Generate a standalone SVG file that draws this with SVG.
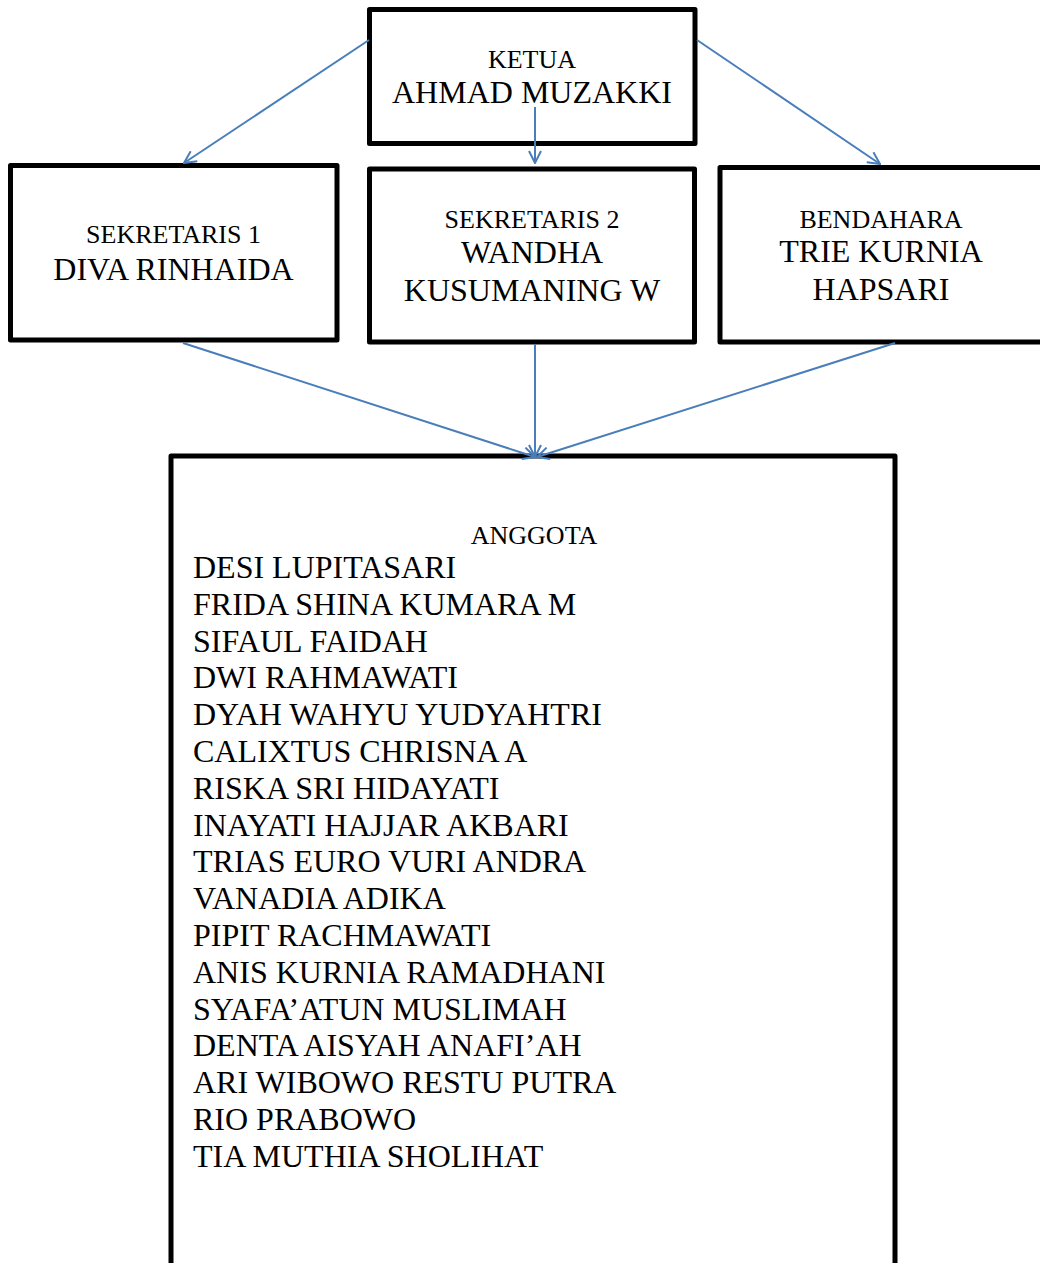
<svg xmlns="http://www.w3.org/2000/svg" width="1040" height="1263" viewBox="0 0 1040 1263">
<style>
.box{fill:#ffffff;stroke:#000000;stroke-width:5;stroke-linejoin:round}
.t{font-family:"Liberation Serif","Times New Roman",serif;fill:#000000}
.s{font-size:26px}
.b{font-size:32px}
.c{text-anchor:middle}
.conn{stroke:#4a7ebb;stroke-width:2;fill:none}
</style>
<defs>
<marker id="arr" viewBox="0 0 14 14" refX="13" refY="7" markerWidth="14" markerHeight="14" markerUnits="userSpaceOnUse" orient="auto">
<path d="M1,1 L13,7 L1,13" fill="none" stroke="#4a7ebb" stroke-width="2"/>
</marker>
</defs>
<rect width="1040" height="1263" fill="#ffffff"/>
<g id="ketua">
<rect class="box" x="369.5" y="9.5" width="325.5" height="134"/>
<text class="t s c" x="532" y="68">KETUA</text>
<text class="t b c" x="532" y="103">AHMAD MUZAKKI</text>
</g>
<g id="sekretaris1">
<rect class="box" x="10.5" y="165.5" width="326.5" height="174.5"/>
<text class="t s c" x="173.5" y="243">SEKRETARIS 1</text>
<text class="t b c" x="173.5" y="280">DIVA RINHAIDA</text>
</g>
<g id="sekretaris2">
<rect class="box" x="369.5" y="169" width="325" height="173"/>
<text class="t s c" x="532" y="228">SEKRETARIS 2</text>
<text class="t b c" x="532" y="263">WANDHA</text>
<text class="t b c" x="532" y="301">KUSUMANING W</text>
</g>
<g id="bendahara">
<rect class="box" x="720" y="167.5" width="324" height="174.5"/>
<text class="t s c" x="881" y="228">BENDAHARA</text>
<text class="t b c" x="881" y="262">TRIE KURNIA</text>
<text class="t b c" x="881" y="300">HAPSARI</text>
</g>
<g id="anggota">
<rect class="box" x="171" y="456" width="724" height="830"/>
<text class="t s c" x="534" y="544">ANGGOTA</text>
<text class="t b" x="193" y="578">DESI LUPITASARI</text>
<text class="t b" x="193" y="614.8">FRIDA SHINA KUMARA M</text>
<text class="t b" x="193" y="651.6">SIFAUL FAIDAH</text>
<text class="t b" x="193" y="688.4">DWI RAHMAWATI</text>
<text class="t b" x="193" y="725.2">DYAH WAHYU YUDYAHTRI</text>
<text class="t b" x="193" y="762">CALIXTUS CHRISNA A</text>
<text class="t b" x="193" y="798.8">RISKA SRI HIDAYATI</text>
<text class="t b" x="193" y="835.6">INAYATI HAJJAR AKBARI</text>
<text class="t b" x="193" y="872.4">TRIAS EURO VURI ANDRA</text>
<text class="t b" x="193" y="909.2">VANADIA ADIKA</text>
<text class="t b" x="193" y="946">PIPIT RACHMAWATI</text>
<text class="t b" x="193" y="982.8">ANIS KURNIA RAMADHANI</text>
<text class="t b" x="193" y="1019.6">SYAFA’ATUN MUSLIMAH</text>
<text class="t b" x="193" y="1056.4">DENTA AISYAH ANAFI’AH</text>
<text class="t b" x="193" y="1093.2">ARI WIBOWO RESTU PUTRA</text>
<text class="t b" x="193" y="1130">RIO PRABOWO</text>
<text class="t b" x="193" y="1166.8">TIA MUTHIA SHOLIHAT</text>
</g>
<g id="connectors">
<line class="conn" x1="369" y1="40" x2="184" y2="163" marker-end="url(#arr)"/>
<line class="conn" x1="535" y1="107" x2="535" y2="163" marker-end="url(#arr)"/>
<line class="conn" x1="697" y1="40" x2="880" y2="164" marker-end="url(#arr)"/>
<line class="conn" x1="183" y1="343" x2="535" y2="457" marker-end="url(#arr)"/>
<line class="conn" x1="535" y1="344" x2="535" y2="457" marker-end="url(#arr)"/>
<line class="conn" x1="895" y1="343" x2="537" y2="457" marker-end="url(#arr)"/>
</g>
</svg>
